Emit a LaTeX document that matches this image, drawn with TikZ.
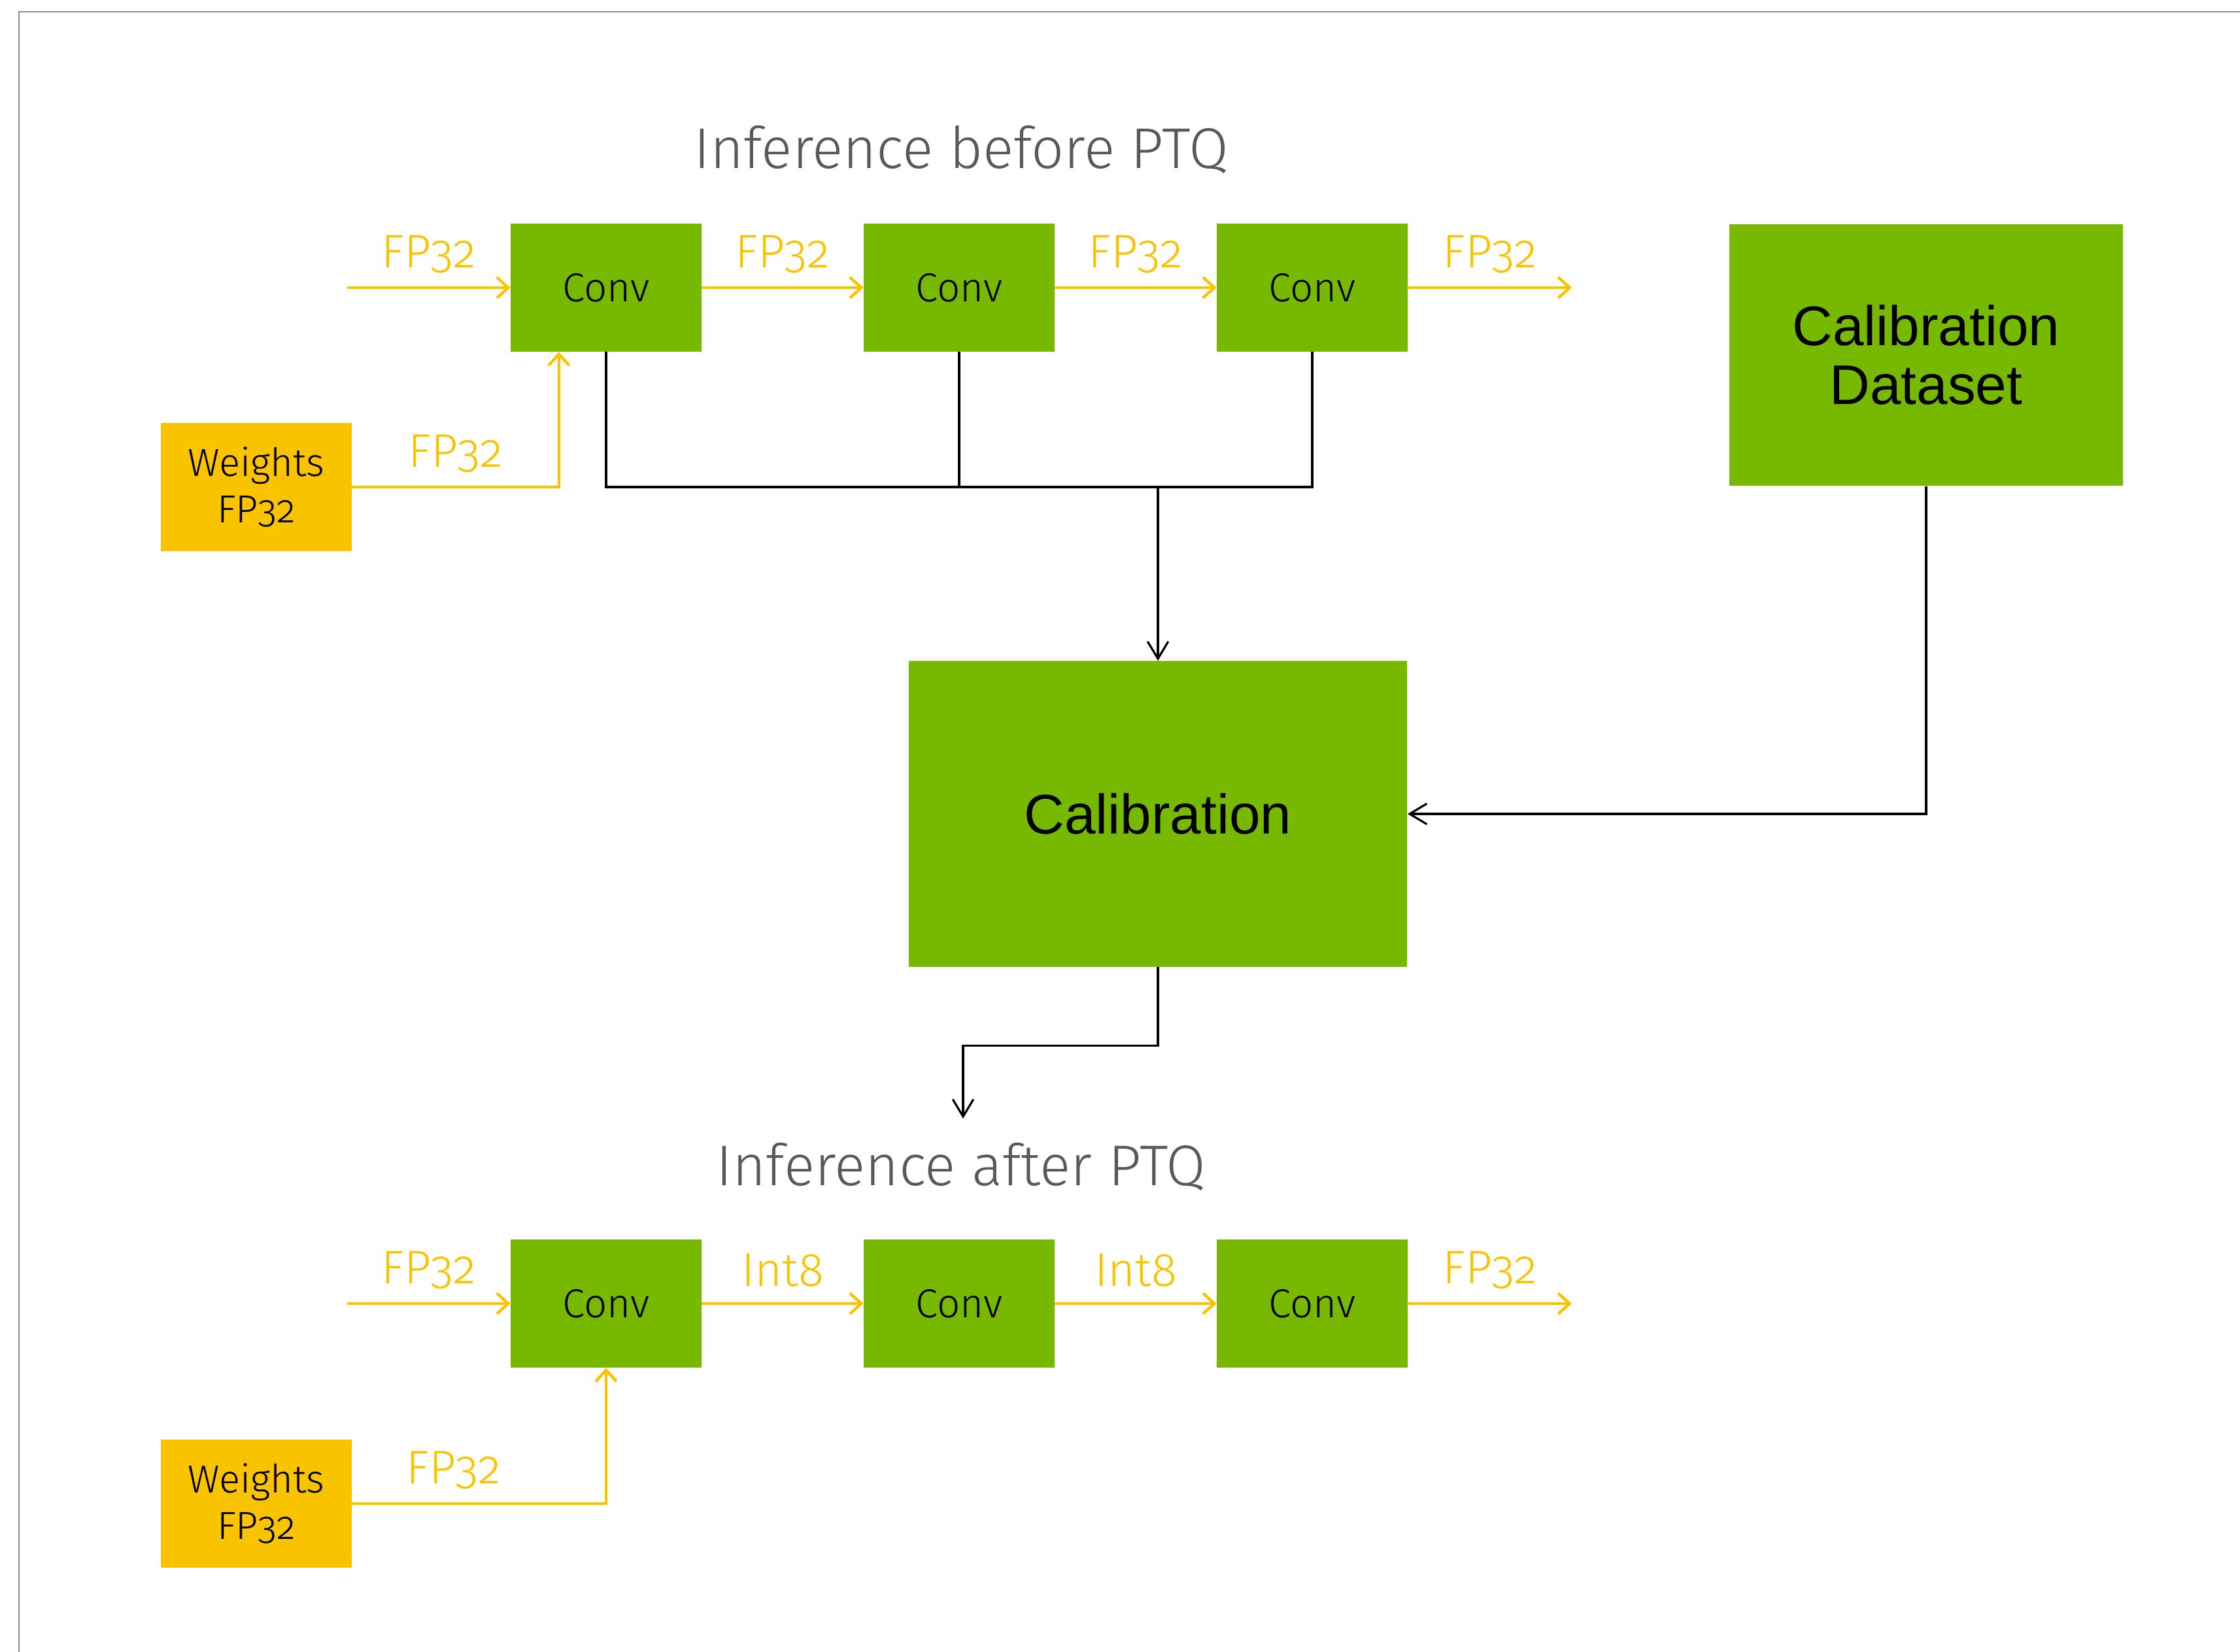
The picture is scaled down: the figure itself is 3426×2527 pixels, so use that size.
\documentclass[tikz,border=0pt]{standalone}
\usepackage{fontspec}
\setmainfont{Fira Sans Light}[Numbers=OldStyle]
\newfontfamily\arialfont{Liberation Sans}
\usetikzlibrary{arrows.meta}
\definecolor{nvgreen}{HTML}{76B900}
\definecolor{ptqyellow}{HTML}{FAC300}
\definecolor{titlegrey}{HTML}{595959}
\definecolor{framegrey}{HTML}{8C8C8C}

\begin{document}
\begin{tikzpicture}[x=0.01cm,y=-0.01cm,
  convbox/.style={fill=nvgreen, minimum width=2.91cm, minimum height=1.95cm, inner sep=0pt,
    font=\fontsize{17.6}{20}\selectfont},
  wbox/.style={fill=ptqyellow, minimum width=2.91cm, minimum height=1.96cm, inner sep=0pt,
    align=center, font=\fontsize{17}{20}\selectfont},
  bigbox/.style={fill=nvgreen, inner sep=0pt, align=center,
    font=\arialfont\fontsize{24.3}{25.6}\selectfont},
  yarrow/.style={draw=ptqyellow, line width=1.25pt, -{Straight Barb[length=5pt,width=9pt]}},
  kline/.style={draw=black, line width=0.9pt},
  karrow/.style={kline, -{Straight Barb[length=7.5pt,width=9pt]}},
  lbl/.style={text=ptqyellow, font=\fontsize{20.5}{22}\selectfont, yshift=0.51cm},
  title/.style={text=titlegrey, font=\fontsize{25}{27}\selectfont}]

% canvas and slide frame
\useasboundingbox (0,0) rectangle (3426,2527);
\draw[framegrey, line width=0.7pt] (29,2527) -- (29,18) -- (3426,18);

% ---------- inference before PTQ ----------
\node[title] (ttop) at (1470,229) {Inference before PTQ};
\node[convbox] (ca1) at (927,440) {Conv};
\node[convbox] (ca2) at (1467,440) {Conv};
\node[convbox] (ca3) at (2007,440) {Conv};
\node[wbox] (wa) at (392,745) {Weights\\FP32};
\coordinate (ina) at (531,440);
\coordinate (outa) at (2404,440);

\draw[yarrow] (ina) -- node[lbl] {FP32} (ca1);
\draw[yarrow] (ca1) -- node[lbl] {FP32} (ca2);
\draw[yarrow] (ca2) -- node[lbl] {FP32} (ca3);
\draw[yarrow] (ca3) -- node[lbl] {FP32} (outa);
\draw[yarrow] (wa.east) -| node[lbl, pos=0.25] {FP32} ([xshift=0.74cm]ca1.south west);

% ---------- calibration ----------
\node[bigbox, minimum width=6.01cm, minimum height=4.0cm] (data) at (2946,543) {Calibration\\Dataset};
\node[bigbox, minimum width=7.62cm, minimum height=4.67cm] (calib) at (1771,1245) {Calibration};
\coordinate (jn) at (calib.north |- wa.east);

\draw[kline] (ca1.south) -- (ca1.south |- jn) -- (ca3.south |- jn) -- (ca3.south);
\draw[kline] (ca2.south) -- (ca2.south |- jn);
\draw[karrow] (jn) -- (calib.north);
\draw[karrow] (data.south) |- (calib.east);

\coordinate (drop) at (1473,1711);
\draw[karrow] (calib.south) -- ++(0,120) -| (drop);

% ---------- inference after PTQ ----------
\node[title] (tbot) at (1470,1785) {Inference after PTQ};
\node[convbox] (cb1) at (927,1994) {Conv};
\node[convbox] (cb2) at (1467,1994) {Conv};
\node[convbox] (cb3) at (2007,1994) {Conv};
\node[wbox] (wb) at (392,2300) {Weights\\FP32};
\coordinate (inb) at (531,1994);
\coordinate (outb) at (2404,1994);

\draw[yarrow] (inb) -- node[lbl] {FP32} (cb1);
\draw[yarrow] (cb1) -- node[lbl] {Int8} (cb2);
\draw[yarrow] (cb2) -- node[lbl] {Int8} (cb3);
\draw[yarrow] (cb3) -- node[lbl] {FP32} (outb);
\draw[yarrow] (wb.east) -| node[lbl, pos=0.2] {FP32} (cb1.south);

\end{tikzpicture}
\end{document}
